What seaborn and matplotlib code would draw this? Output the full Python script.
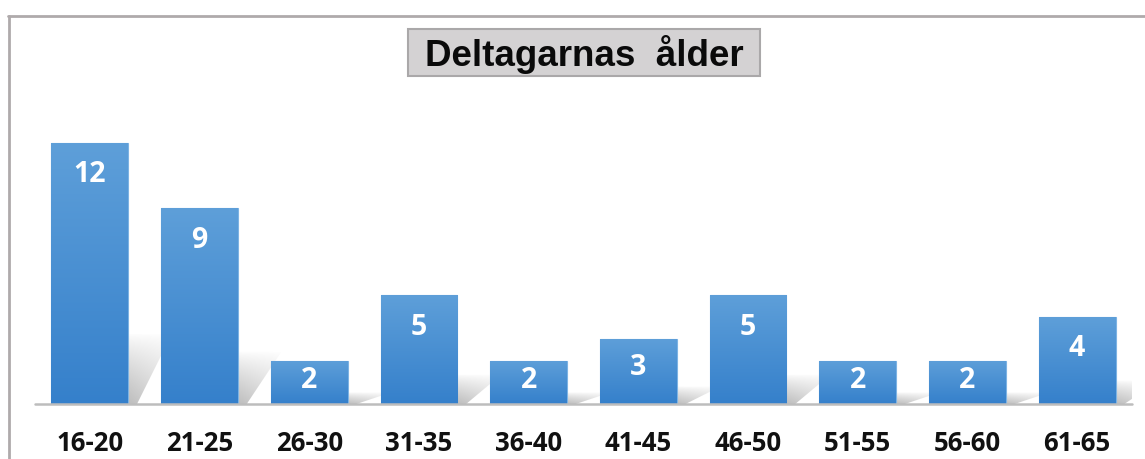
import numpy as np
import pandas as pd
import matplotlib
matplotlib.use("Agg")
import matplotlib.pyplot as plt
import seaborn as sns
from matplotlib.colors import LinearSegmentedColormap
from matplotlib.patches import Polygon, Rectangle
from matplotlib.lines import Line2D

# ---- data ----
categories = ["16-20", "21-25", "26-30", "31-35", "36-40",
              "41-45", "46-50", "51-55", "56-60", "61-65"]
counts = [12, 9, 2, 5, 2, 3, 5, 2, 2, 4]
title_text = "Deltagarnas  ålder"

sns.set_theme(style="white")
plt.rcParams['font.family'] = ['Open Sans', 'DejaVu Sans']

W, H = 1145, 460
fig = plt.figure(figsize=(W / 100, H / 100), dpi=100)
fig.patch.set_facecolor("white")

ax_left, ax_right, ax_base, ax_top = 35, 1132, 405, 100
ax = fig.add_axes([ax_left / W, (H - ax_base) / H,
                   (ax_right - ax_left) / W, (ax_base - ax_top) / H])

df = pd.DataFrame({"age": categories, "n": counts})
sns.barplot(data=df, x="age", y="n", color="#4a8fd2", width=0.7,
            saturation=1, ax=ax, zorder=3)

ymax = (ax_base - ax_top) / 21.75
ax.set_xlim(-0.5, len(categories) - 0.5)
ax.set_ylim(0, ymax)

top_col = "#5e9fd9"
bot_col = "#3580cb"
cmap = LinearSegmentedColormap.from_list("bar", [bot_col, top_col])
grad = np.linspace(1, 0, 256).reshape(-1, 1)

# shadow gradient (grey, fading upward and to the right)
ny, nx = 96, 64
yy = np.linspace(1, 0, ny).reshape(-1, 1)   # row 0 = top
xx = np.linspace(0, 1, nx).reshape(1, -1)
alpha = (yy ** 0.9) * 0.0 + (1 - yy) ** 0.8
alpha = alpha * (1 - 0.55 * xx) * 0.55
sh = np.zeros((ny, nx, 4))
sh[..., 0:3] = 0.50
sh[..., 3] = alpha

for p in list(ax.patches):
    x0 = p.get_x()
    w = p.get_width()
    h = p.get_height()
    # soft skewed shadow behind bar
    d = 0.40
    k = 0.27
    poly = Polygon([(x0, 0), (x0 + w + 0.08, 0), (x0 + w + d, k * h),
                    (x0 + d, k * h)], closed=True, facecolor="none",
                   edgecolor="none", transform=ax.transData)
    ax.add_patch(poly)
    ims = ax.imshow(sh, extent=[x0 + w - 0.05, x0 + w + d, 0, k * h],
                    aspect="auto", zorder=1, interpolation="bilinear")
    ims.set_clip_path(poly)
    # gradient fill of bar
    im = ax.imshow(grad, extent=[x0, x0 + w, 0, h], aspect="auto",
                   cmap=cmap, vmin=0, vmax=1, zorder=4,
                   interpolation="bilinear")
    im.set_clip_path(p)
    p.set_edgecolor("#7db3e3")
    p.set_linewidth(0.8)
    # value label
    off_px = min(31, h * 21.75 * 0.43)
    ax.text(x0 + w / 2, h - off_px / 21.75, f"{int(round(h))}",
            ha="center", va="center", color="white", fontsize=20.5,
            fontweight="bold", zorder=6)

ax.set_xlim(-0.5, len(categories) - 0.5)
ax.set_ylim(0, ymax)

ax.axhline(0, color="#bdbdbd", lw=1.8, zorder=5, clip_on=False)
for s in ax.spines.values():
    s.set_visible(False)
ax.set_yticks([])
ax.set_xlabel("")
ax.set_ylabel("")
ax.tick_params(axis="x", length=0, pad=18)
for lbl in ax.get_xticklabels():
    lbl.set_fontsize(18.5)
    lbl.set_fontweight("bold")
    lbl.set_color("#111111")
ax.patch.set_alpha(0)

# frame lines of the chart area
fig.add_artist(Line2D([8 / W, 1], [1 - 17 / H, 1 - 17 / H],
                      transform=fig.transFigure, color="#afaaab", lw=2.0))
fig.add_artist(Line2D([9 / W, 9 / W], [0, 1 - 17 / H],
                      transform=fig.transFigure, color="#afaaab", lw=2.0))

# title box
bx0, bx1, by0, by1 = 408, 760, 30, 77
fig.add_artist(Rectangle((bx0 / W, 1 - by1 / H), (bx1 - bx0) / W,
                         (by1 - by0) / H, transform=fig.transFigure,
                         facecolor="#d4d2d3", edgecolor="#aaa8a9", lw=1.5))
fig.text((bx0 + bx1) / 2 / W, 1 - 54 / H, title_text, ha="center",
         va="center", fontsize=26.5, fontweight="bold", color="#0a0a0a",
         family=["Liberation Sans", "DejaVu Sans"])

fig.savefig("out.png", dpi=100, facecolor="white")
